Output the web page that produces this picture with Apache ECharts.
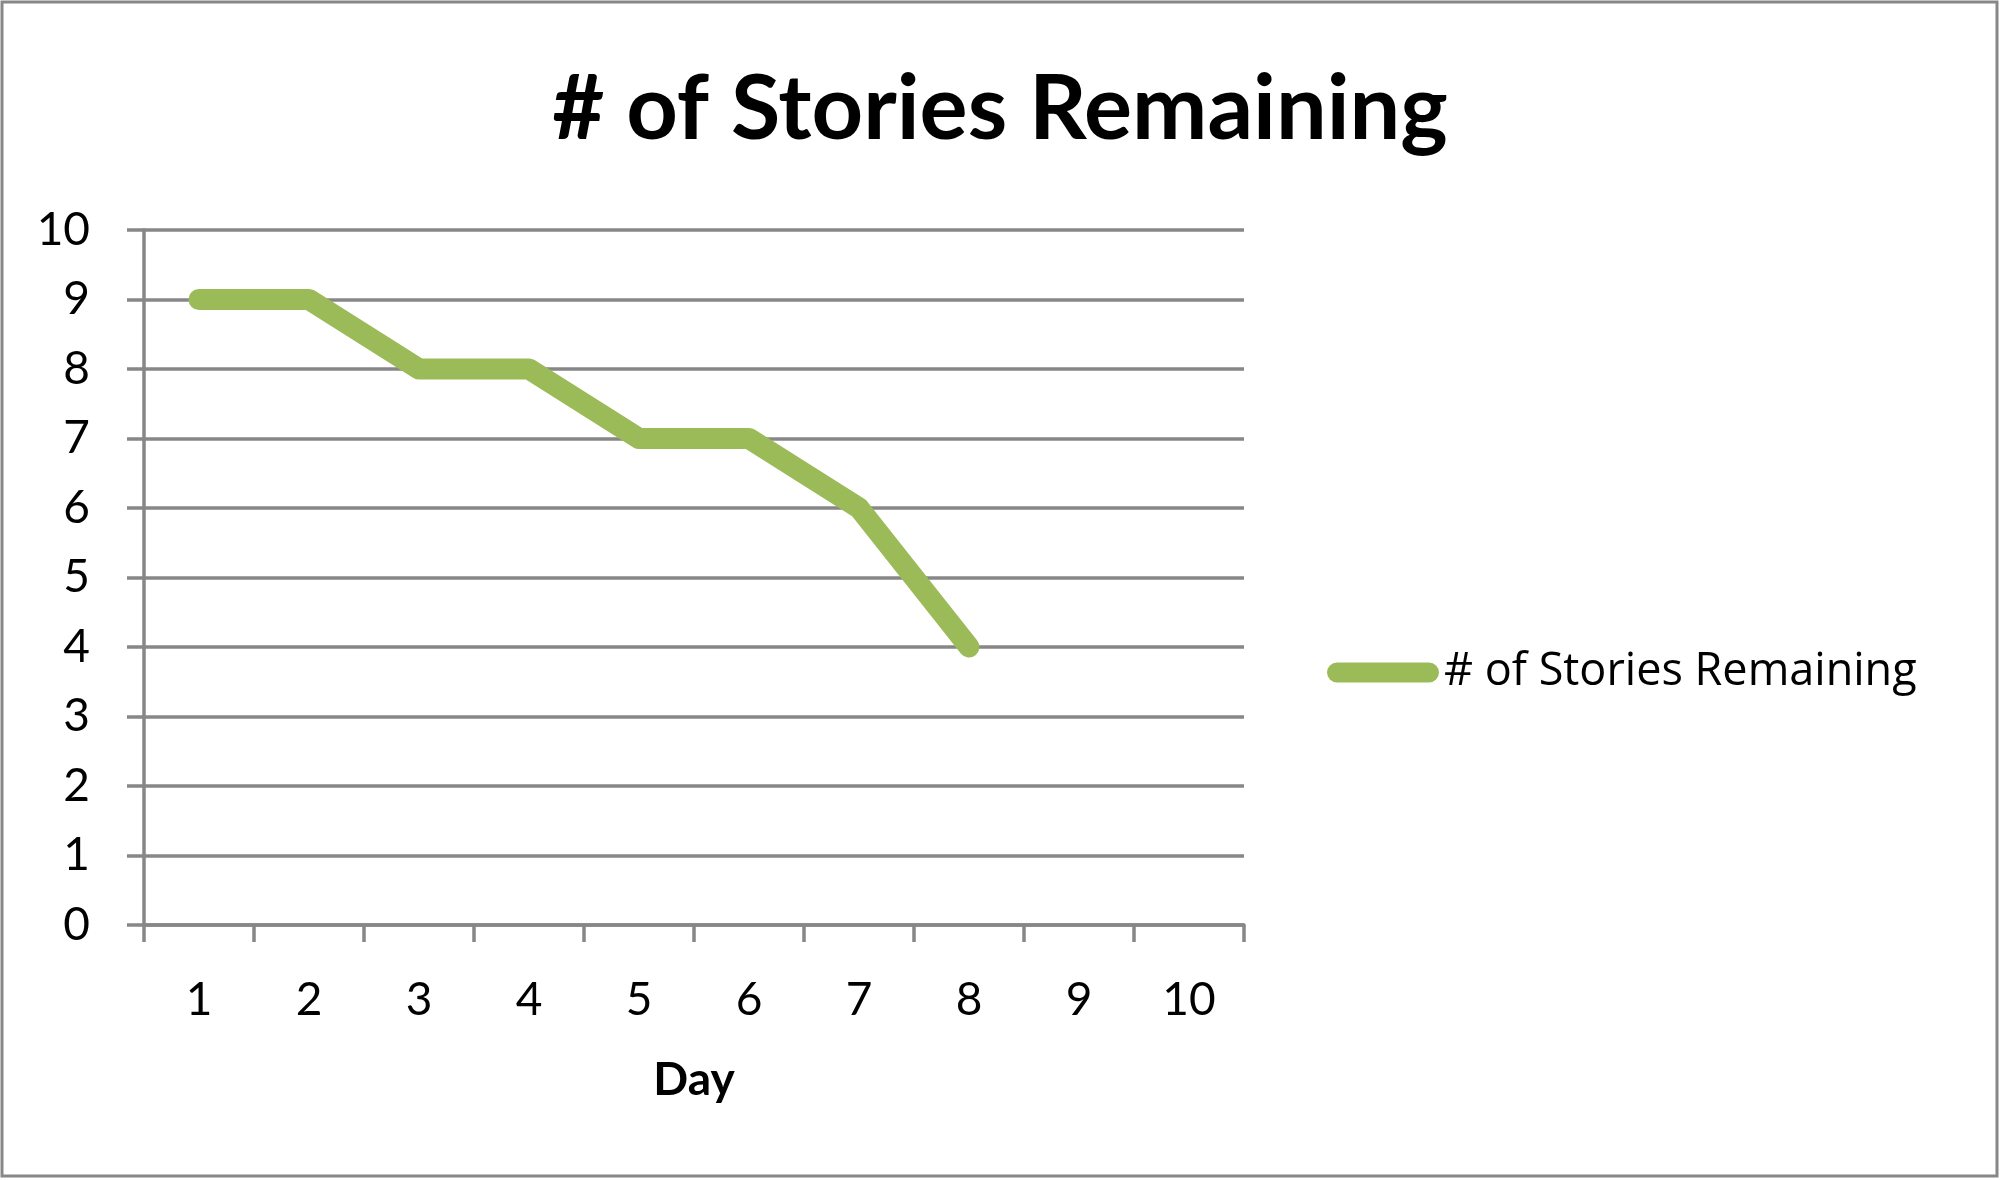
<!DOCTYPE html>
<html>
<head>
<meta charset="utf-8">
<script src="https://cdn.jsdelivr.net/npm/echarts@6/dist/echarts.min.js"></script>
<style>
  html, body { margin: 0; padding: 0; background: #fff; }
  #chart { width: 2000px; height: 1180px; }
</style>
</head>
<body>
<div id="chart"></div>
<script>
// burndown data
var days = ['1', '2', '3', '4', '5', '6', '7', '8', '9', '10'];
var storiesLeft = [9, 9, 8, 8, 7, 7, 6, 4];
var seriesName = '# of Stories Remaining';

var gray = '#878787';
var green = '#9BBB59';
var font = 'Lato';

var chart = echarts.init(document.getElementById('chart'));

chart.setOption({
  backgroundColor: '#fff',
  animation: false,
  title: {
    text: '# of Stories Remaining',
    left: 'center',
    top: 60,
    textStyle: { fontFamily: font, fontWeight: 'bold', fontSize: 90, color: '#000' }
  },
  legend: {
    left: 1327,
    top: 650,
    padding: 0,
    itemWidth: 112,
    itemHeight: 21,
    icon: 'path://M10,0 L102,0 A10,10 0 0 1 102,20 L10,20 A10,10 0 0 1 10,0 Z',
    // the legend text in the picture is spaced out, a wider face gets closer
    textStyle: { fontFamily: 'Open Sans', fontSize: 45, color: '#000' },
    data: [seriesName]
  },
  grid: { left: 144, right: 756, top: 230, bottom: 255 },
  xAxis: {
    type: 'category',
    data: days,
    boundaryGap: true,
    name: 'Day',
    nameLocation: 'middle',
    nameGap: 132,
    nameTextStyle: { fontFamily: font, fontWeight: 'bold', fontSize: 46, color: '#000' },
    axisLine: { lineStyle: { color: gray, width: 3.5 } },
    axisTick: { show: true, length: 17, interval: 0, lineStyle: { color: gray, width: 3.5 } },
    axisLabel: { margin: 52, fontFamily: font, fontSize: 46, color: '#000' },
    splitLine: { show: false }
  },
  yAxis: {
    type: 'value',
    min: 0,
    max: 10,
    interval: 1,
    axisLine: { show: true, lineStyle: { color: gray, width: 3.5 } },
    axisTick: { show: true, length: 17, lineStyle: { color: gray, width: 3.5 } },
    axisLabel: { margin: 54, fontFamily: font, fontSize: 46, color: '#000' },
    splitLine: { show: true, lineStyle: { color: gray, width: 3.5 } }
  },
  graphic: [{
    type: 'rect',
    shape: { x: 2, y: 2, width: 1995, height: 1174 },
    style: { fill: null, stroke: gray, lineWidth: 3 },
    silent: true
  }],
  series: [{
    name: seriesName,
    type: 'line',
    data: storiesLeft,
    showSymbol: false,
    symbol: 'none',
    itemStyle: { color: green },
    lineStyle: { color: green, width: 21, cap: 'round', join: 'round' }
  }]
});
</script>
</body>
</html>
